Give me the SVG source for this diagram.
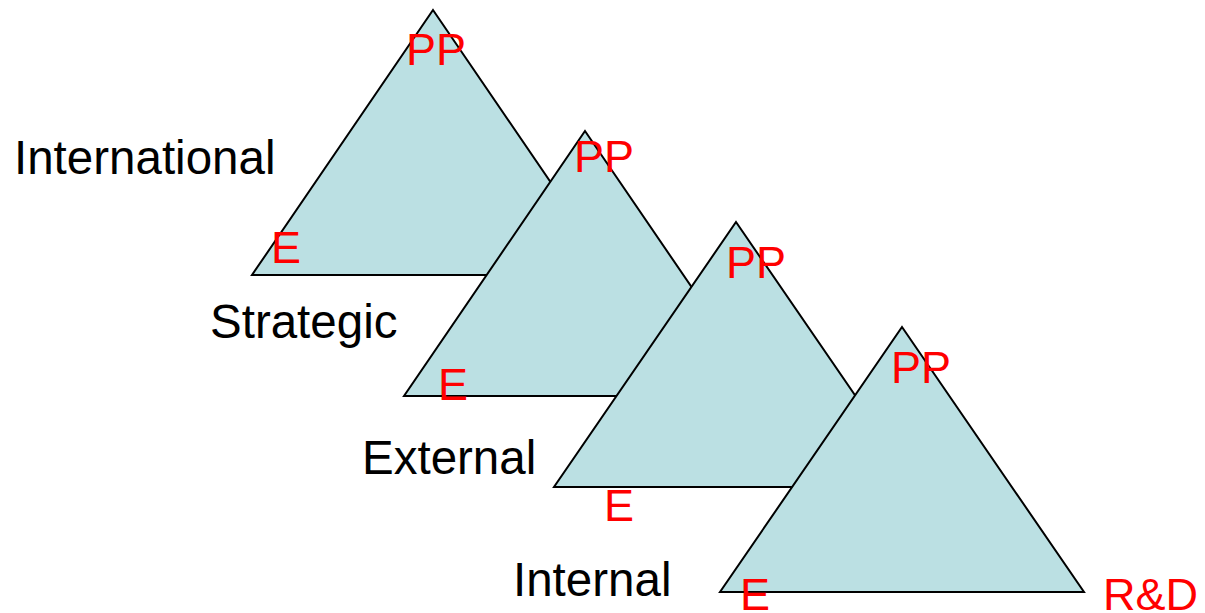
<svg xmlns="http://www.w3.org/2000/svg" width="1205" height="613" viewBox="0 0 1205 613">
<style>
.tri{fill:#bbe0e3;stroke:#000;stroke-width:2;stroke-linejoin:miter}
.r{fill:#ff0000;font-family:"Liberation Sans",Arial,sans-serif;font-size:45px}
.k{fill:#000;font-family:"Liberation Sans",Arial,sans-serif;font-size:47.5px}
</style>
<rect width="1205" height="613" fill="#fff"/>
<g id="label-international"><text class="k" x="14" y="174">International</text></g>
<g id="label-strategic"><text class="k" x="210" y="338">Strategic</text></g>
<g id="label-external"><text class="k" x="362" y="474">External</text></g>
<g id="label-internal"><text class="k" x="513" y="596">Internal</text></g>
<g id="tri1">
<polygon class="tri" points="433,10 614,275 252,275"/>
<text class="r" x="406" y="65">PP</text>
<text class="r" x="271" y="263">E</text>
</g>
<g id="tri2">
<polygon class="tri" points="585,131 766,396 404,396"/>
<text class="r" x="574" y="172">PP</text>
<text class="r" x="438" y="400">E</text>
</g>
<g id="tri3">
<polygon class="tri" points="736,222 918,487 554,487"/>
<text class="r" x="726" y="278">PP</text>
<text class="r" x="604" y="521">E</text>
</g>
<g id="tri4">
<polygon class="tri" points="902,327 1084,592 720,592"/>
<text class="r" x="891" y="383">PP</text>
<text class="r" x="740" y="610">E</text>
<text class="r" x="1103" y="610">R&amp;D</text>
</g>
<g id="connectors"/>
</svg>
